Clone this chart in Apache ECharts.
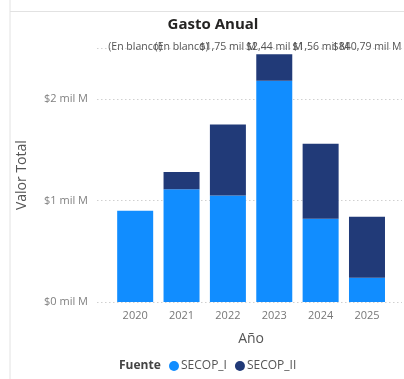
<!DOCTYPE html>
<html>
<head>
<meta charset="utf-8">
<script src="https://cdn.jsdelivr.net/npm/echarts@6/dist/echarts.min.js"></script>
<style>html,body{margin:0;padding:0;background:#fff;}#c{width:404px;height:379px;}</style>
</head>
<body>
<div id="c"></div>
<script>
var years = ['2020', '2021', '2022', '2023', '2024', '2025'];
var secopI = [0.90, 1.11, 1.05, 2.18, 0.82, 0.24];
var secopII = [null, 0.17, 0.70, 0.26, 0.74, 0.60];
var totalLabels = ['(En blanco)', '(En blanco)', '$1,75 mil M', '$2,44 mil M', '$1,56 mil M', '$840,79 mil M'];
var yTicks = ['$0 mil M', '$1 mil M', '$2 mil M'];

var FONT = '"Open Sans", "Noto Sans", sans-serif';
var chart = echarts.init(document.getElementById('c'), null, {renderer: 'canvas'});
chart.setOption({
  animation: false,
  textStyle: {fontFamily: FONT},
  title: [
    {text: 'Gasto Anual', left: 208, textAlign: 'center', top: 12,
     textStyle: {fontSize: 15, fontWeight: 'bold', color: '#252423', fontFamily: FONT}},
    {text: 'Fuente', left: 114, top: 355,
     textStyle: {fontSize: 12, fontWeight: 'bold', color: '#444', fontFamily: FONT}}
  ],
  legend: {
    left: 164, top: 355, icon: 'circle', itemWidth: 10, itemHeight: 10, itemGap: 8,
    textStyle: {fontSize: 12, color: '#555', fontFamily: FONT, padding: [0, 0, 0, -3]},
    data: ['SECOP_I', 'SECOP_II']
  },
  graphic: [
    {type: 'line', shape: {x1: 10, y1: 0, x2: 10, y2: 379}, style: {stroke: '#e2e2e2', lineWidth: 1}},
    {type: 'line', shape: {x1: 10, y1: 11.5, x2: 404, y2: 11.5}, style: {stroke: '#e2e2e2', lineWidth: 1}}
  ],
  grid: [
    {left: 112, right: 10, top: 48.25, bottom: 77},
    {left: 97, right: 2, top: 48.25, bottom: 77}
  ],
  xAxis: [
    {type: 'category', gridIndex: 0, data: years, position: 'bottom',
     axisLine: {show: false}, axisTick: {show: false},
     axisLabel: {color: '#777', fontSize: 11, margin: 8, fontFamily: FONT},
     name: 'Año', nameLocation: 'middle', nameGap: 30,
     nameTextStyle: {fontSize: 14, color: '#555', fontFamily: FONT}},
    {type: 'category', gridIndex: 0, data: totalLabels, position: 'top',
     axisLine: {show: false}, axisTick: {show: false},
     axisLabel: {interval: 0, color: '#555', fontSize: 10.5, margin: -4, fontFamily: FONT}},
    {type: 'category', gridIndex: 1, data: years, show: false}
  ],
  yAxis: [
    {type: 'value', gridIndex: 0, min: 0, max: 2.5, interval: 1, show: false, splitLine: {show: false}},
    {type: 'value', gridIndex: 1, min: 0, max: 2.5, interval: 1,
     axisLine: {show: false}, axisTick: {show: false},
     splitLine: {show: true, lineStyle: {type: [1.5, 2.5], color: '#d0d0d0', width: 1}},
     axisLabel: {color: '#808080', fontSize: 11, margin: 9, fontFamily: FONT,
       formatter: function (v) { return v <= 2 ? yTicks[Math.round(v)] : ''; }},
     name: 'Valor Total', nameLocation: 'middle', nameGap: 68, nameRotate: 90,
     nameTextStyle: {fontSize: 14, color: '#555', fontFamily: FONT}}
  ],
  series: [
    {name: 'SECOP_I', type: 'bar', stack: 't', xAxisIndex: 0, yAxisIndex: 0,
     barWidth: 36, data: secopI, itemStyle: {color: '#118DFF'}},
    {name: 'SECOP_II', type: 'bar', stack: 't', xAxisIndex: 0, yAxisIndex: 0,
     barWidth: 36, data: secopII, itemStyle: {color: '#213a78'}}
  ]
});
</script>
</body>
</html>
